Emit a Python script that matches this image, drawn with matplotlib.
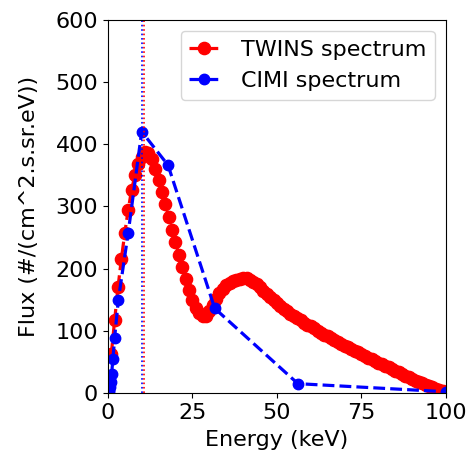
import matplotlib
matplotlib.use('Agg')
import matplotlib.pyplot as plt
import numpy as np

# TWINS spectrum, 1 keV bins
twins_energy = np.arange(1, 101)
twins_flux = [
    62, 117, 170, 216, 257, 294, 326, 350, 368, 380,
    387, 386, 376, 360, 343, 323, 303, 283, 262, 242,
    222, 202, 183, 165, 150, 137, 128, 123, 124, 131,
    141, 151, 160, 167, 173, 177, 180, 182, 183, 184,
    184, 182, 179, 175, 170, 164, 159, 154, 149, 145,
    140, 135, 131, 127, 124, 121, 117, 113, 110, 107,
    104, 100, 97, 94, 91, 88, 85, 82, 79, 76,
    74, 71, 68, 66, 63, 60, 57, 55, 52, 49,
    46, 43, 41, 38, 35, 33, 30, 28, 25, 23,
    20, 18, 16, 13, 11, 9, 7, 5, 3, 2,
]

# CIMI spectrum on its own energy grid
cimi_energy = [0.2, 0.4, 0.6, 0.8, 1.1, 1.5, 2.0, 3.1, 6.0, 10.0, 17.8, 31.6, 56.2, 100.0]
cimi_flux = [2, 5, 10, 18, 31, 55, 89, 150, 257, 420, 366, 136, 15, 2]

# mean energies
twins_mean = 10.7
cimi_mean = 10.2

fs = 16

fig = plt.figure(figsize=(4.67, 4.61), dpi=100)
ax = fig.add_axes([0.231, 0.1475, 0.724, 0.81])

ax.plot(twins_energy, twins_flux, 'ro--', markersize=8.8, linewidth=2.3, label='TWINS spectrum')
ax.plot(cimi_energy, cimi_flux, 'bo--', markersize=7.5, linewidth=2.3, label='CIMI spectrum')
ax.axvline(twins_mean, color='r', linestyle=':', linewidth=1.2)
ax.axvline(cimi_mean, color='b', linestyle=':', linewidth=1.2)

ax.set_xlim(0, 100)
ax.set_ylim(0, 600)
ax.set_xticks([0, 25, 50, 75, 100])
ax.set_xlabel('Energy (keV)', fontsize=fs, labelpad=5)
ax.set_ylabel('Flux (#/(cm^2.s.sr.eV))', fontsize=fs, labelpad=12)
ax.tick_params(labelsize=fs)
ax.legend(loc='upper right', fontsize=fs, handlelength=1.3, handletextpad=1.0)

plt.savefig('out.png', dpi=100)
